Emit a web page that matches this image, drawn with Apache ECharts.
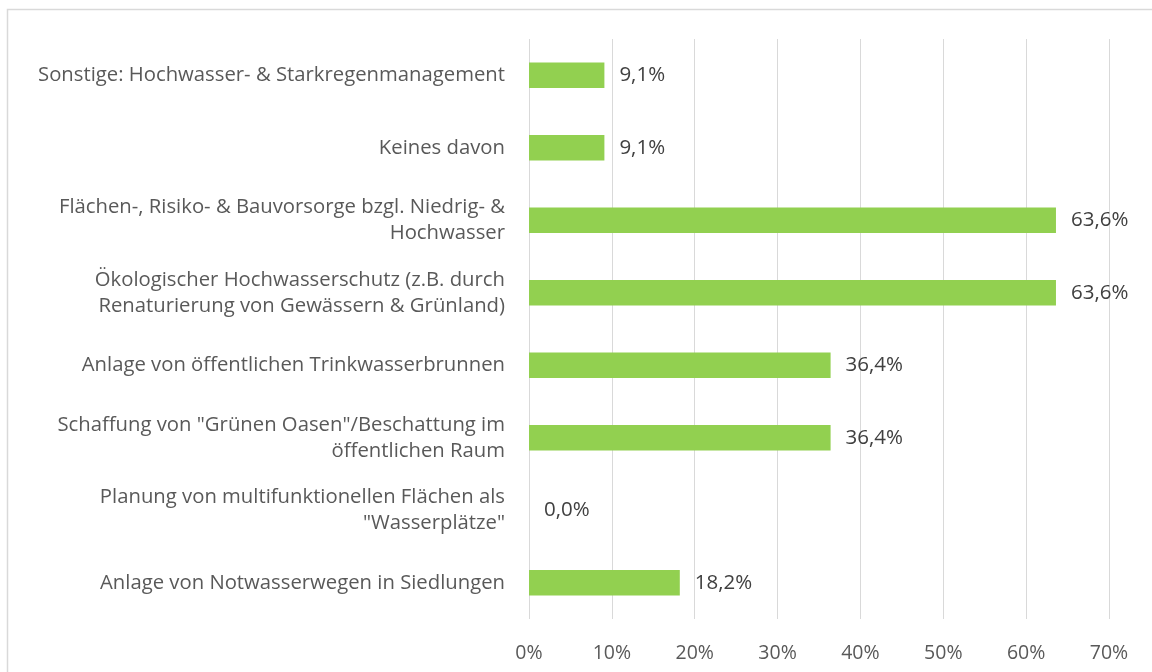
<!DOCTYPE html>
<html>
<head>
<meta charset="utf-8">
<script src="https://cdn.jsdelivr.net/npm/echarts@6/dist/echarts.min.js"></script>
<style>
html,body{margin:0;padding:0;background:#fff;}
#chart{width:1152px;height:672px;}
</style>
</head>
<body>
<div id="chart"></div>
<script>
const categories = [
  'Sonstige: Hochwasser- & Starkregenmanagement',
  'Keines davon',
  'Flächen-, Risiko- & Bauvorsorge bzgl. Niedrig- &\nHochwasser',
  'Ökologischer Hochwasserschutz (z.B. durch\nRenaturierung von Gewässern & Grünland)',
  'Anlage von öffentlichen Trinkwasserbrunnen',
  'Schaffung von "Grünen Oasen"/Beschattung im\nöffentlichen Raum',
  'Planung von multifunktionellen Flächen als\n"Wasserplätze"',
  'Anlage von Notwasserwegen in Siedlungen'
];
const values = [9.1, 9.1, 63.6, 63.6, 36.4, 36.4, 0.0, 18.2];
const xTicks = [0, 10, 20, 30, 40, 50, 60, 70];

const FONT = 'Open Sans';
const chart = echarts.init(document.getElementById('chart'));
chart.setOption({
  animation: false,
  graphic: [{
    type: 'polyline',
    shape: { points: [[7.5, 672], [7.5, 9.5], [1152, 9.5]] },
    style: { stroke: '#d9d9d9', lineWidth: 1.5, fill: null },
    silent: true
  }],
  grid: { left: 529, right: 43, top: 39, bottom: 53 },
  xAxis: {
    type: 'value',
    min: xTicks[0],
    max: xTicks[xTicks.length - 1],
    interval: 10,
    axisLine: { show: false },
    axisTick: { show: false },
    splitLine: { show: true, lineStyle: { color: '#d9d9d9', width: 1 } },
    axisLabel: {
      margin: 24,
      color: '#595959',
      fontFamily: FONT,
      fontSize: 19.5,
      formatter: v => v + '%'
    }
  },
  yAxis: {
    type: 'category',
    data: categories,
    inverse: true,
    axisLine: { show: false },
    axisTick: { show: false },
    axisLabel: {
      margin: 24,
      color: '#595959',
      fontFamily: FONT,
      fontSize: 20.3,
      lineHeight: 26,
      align: 'right'
    }
  },
  series: [{
    type: 'bar',
    data: values,
    barCategoryGap: '65%',
    itemStyle: { color: '#92D050' },
    label: {
      show: true,
      position: 'right',
      distance: 15,
      color: '#404040',
      fontFamily: FONT,
      fontSize: 20.5,
      lineHeight: 28,
      padding: [6, 0, 0, 0],
      formatter: p => p.value.toFixed(1).replace('.', ',') + '%'
    }
  }]
});
</script>
</body>
</html>
